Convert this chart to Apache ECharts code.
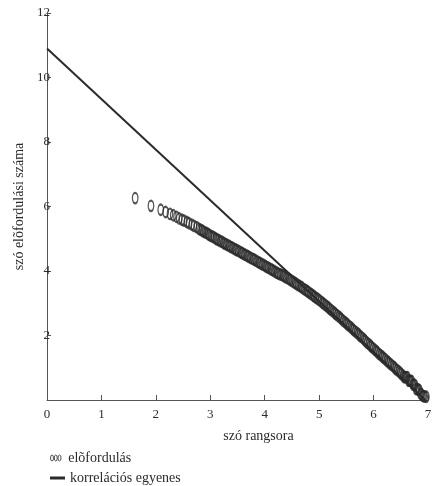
<!DOCTYPE html>
<html lang="hu">
<head>
    <meta charset="utf-8">
    <title>szó rangsora</title>
    <script src="https://cdn.jsdelivr.net/npm/echarts@6/dist/echarts.min.js"></script>
    <style>
        html, body { margin: 0; padding: 0; background: #fff; }
        #chart { width: 435px; height: 486px; }
    </style>
</head>
<body>
<div id="chart"></div>
<script type="text/javascript">
    // előfordulás (scatter)
    var occX = [1.62, 1.91, 2.09, 2.18, 2.26, 2.32, 2.38, 2.43, 2.48, 2.52, 2.57,
        2.61, 2.66, 2.70, 2.75,
        2.79, 2.82, 2.85, 2.87, 2.90, 2.93, 2.96, 2.98, 3.01, 3.04, 3.07, 3.10,
        3.12, 3.15, 3.18, 3.21, 3.24, 3.26, 3.29, 3.32, 3.35, 3.37, 3.40, 3.43,
        3.46, 3.48, 3.51, 3.54, 3.57, 3.59, 3.62, 3.65, 3.68, 3.70, 3.73, 3.76,
        3.79, 3.81, 3.84, 3.87, 3.90, 3.92, 3.95, 3.98, 4.01, 4.03, 4.06, 4.09,
        4.12, 4.14, 4.17, 4.20, 4.23, 4.25, 4.28, 4.31, 4.34, 4.36, 4.39, 4.42,
        4.45, 4.47, 4.50, 4.53, 4.56, 4.58, 4.61, 4.64, 4.67, 4.69, 4.72, 4.75,
        4.78, 4.80, 4.83, 4.86, 4.89, 4.91, 4.94, 4.97, 5.00, 5.03, 5.06, 5.08,
        5.11, 5.14, 5.17, 5.19, 5.22, 5.25, 5.28, 5.30, 5.33, 5.36, 5.39, 5.41,
        5.44, 5.47, 5.50, 5.52, 5.55, 5.58, 5.61, 5.63, 5.66, 5.69, 5.72, 5.74,
        5.77, 5.80, 5.83, 5.85, 5.88, 5.91, 5.94, 5.96, 5.99, 6.02, 6.05, 6.07,
        6.10, 6.13, 6.16, 6.18, 6.21, 6.24, 6.27, 6.29, 6.32, 6.35, 6.38, 6.40,
        6.43, 6.46, 6.49, 6.51, 6.54,
        6.56, 6.58, 6.60, 6.62, 6.64, 6.66, 6.68, 6.70, 6.72, 6.74, 6.76, 6.78,
        6.80, 6.82, 6.84, 6.86, 6.88, 6.90, 6.92, 6.94, 6.97];
    var occY = [6.26, 6.02, 5.90, 5.83, 5.77, 5.73, 5.68, 5.63, 5.59, 5.56, 5.52,
        5.48, 5.44, 5.40, 5.36,
        5.31, 5.28, 5.26, 5.23, 5.20, 5.18, 5.15, 5.12, 5.09, 5.07, 5.04, 5.01,
        4.98, 4.96, 4.93, 4.91, 4.88, 4.85, 4.83, 4.80, 4.78, 4.75, 4.73, 4.70,
        4.67, 4.65, 4.63, 4.60, 4.57, 4.55, 4.52, 4.50, 4.47, 4.45, 4.42, 4.39,
        4.37, 4.35, 4.32, 4.29, 4.26, 4.24, 4.21, 4.19, 4.16, 4.13, 4.11, 4.08,
        4.05, 4.03, 4.00, 3.97, 3.94, 3.92, 3.90, 3.88, 3.86, 3.83, 3.80, 3.78,
        3.75, 3.72, 3.69, 3.66, 3.63, 3.60, 3.57, 3.54, 3.51, 3.48, 3.44, 3.41,
        3.38, 3.35, 3.31, 3.28, 3.24, 3.21, 3.17, 3.14, 3.10, 3.06, 3.02, 2.99,
        2.95, 2.91, 2.87, 2.83, 2.79, 2.75, 2.71, 2.67, 2.63, 2.59, 2.55, 2.51,
        2.46, 2.42, 2.38, 2.34, 2.30, 2.26, 2.21, 2.17, 2.13, 2.09, 2.05, 2.00,
        1.96, 1.92, 1.87, 1.83, 1.78, 1.74, 1.69, 1.65, 1.61, 1.56, 1.52, 1.48,
        1.43, 1.39, 1.35, 1.31, 1.27, 1.22, 1.18, 1.14, 1.10, 1.06, 1.02, 0.97,
        0.93, 0.89, 0.85, 0.80, 0.76,
        0.71, 0.71, 0.71, 0.71, 0.60, 0.60, 0.59, 0.59, 0.48, 0.48, 0.46, 0.34,
        0.34, 0.32, 0.31, 0.20, 0.18, 0.13, 0.12, 0.11, 0.10];

    // korrelációs egyenes
    var corrX = [0, 6.95];
    var corrY = [10.9, 0];

    var xTicks = [0, 1, 2, 3, 4, 5, 6, 7];
    var yTicks = [2, 4, 6, 8, 10, 12];

    var ink = '#2b2b2b',
        serif = 'Liberation Serif';

    function pairs(xs, ys) {
        var out = [];
        for (var i = 0; i < xs.length; i++) {
            out.push([xs[i], ys[i]]);
        }
        return out;
    }

    var ellipse = 'path://M0,5 A3,5 0 1,0 6,5 A3,5 0 1,0 0,5 Z';
    var threeEllipses = 'path://M0,4 A2,4 0 1,0 4,4 A2,4 0 1,0 0,4 Z ' +
        'M5,4 A2,4 0 1,0 9,4 A2,4 0 1,0 5,4 Z ' +
        'M10,4 A2,4 0 1,0 14,4 A2,4 0 1,0 10,4 Z';

    var myChart = echarts.init(document.getElementById('chart'));

    myChart.setOption({
        animation: false,
        backgroundColor: '#fff',
        textStyle: { fontFamily: serif, color: ink },
        grid: { left: 47, right: 7, top: 13, bottom: 86 },
        legend: [
            {
                left: 45, top: 446,
                itemWidth: 15, itemHeight: 6,
                selectedMode: false,
                textStyle: { fontFamily: serif, fontSize: 14, color: ink },
                data: [{
                    name: 'elõfordulás',
                    icon: threeEllipses,
                    itemStyle: { color: 'rgba(0,0,0,0)', borderColor: ink, borderWidth: 1 }
                }]
            },
            {
                left: 45, top: 466,
                itemWidth: 15, itemHeight: 3,
                selectedMode: false,
                textStyle: { fontFamily: serif, fontSize: 14, color: ink },
                data: [{
                    name: 'korrelációs egyenes',
                    icon: 'rect',
                    itemStyle: { color: ink }
                }]
            }
        ],
        xAxis: {
            type: 'value',
            min: xTicks[0],
            max: xTicks[xTicks.length - 1],
            interval: 1,
            name: 'szó rangsora',
            nameLocation: 'middle',
            nameGap: 29,
            nameTextStyle: { fontFamily: serif, fontSize: 14, color: ink, padding: [0, 0, 0, 42] },
            axisLine: { lineStyle: { color: '#555', width: 1 } },
            axisTick: { inside: true, length: 5, lineStyle: { color: '#555' } },
            axisLabel: { margin: 8, fontFamily: serif, fontSize: 13, color: ink },
            splitLine: { show: false }
        },
        yAxis: {
            type: 'value',
            min: 0,
            max: yTicks[yTicks.length - 1],
            interval: 2,
            name: 'szó elõfordulási száma',
            nameLocation: 'middle',
            nameGap: 20,
            nameTextStyle: { fontFamily: serif, fontSize: 14, color: ink },
            axisLine: { show: true, lineStyle: { color: '#555', width: 1 } },
            axisTick: { show: true, inside: true, length: 4, lineStyle: { color: '#555' } },
            axisLabel: {
                margin: -3,
                fontFamily: serif, fontSize: 13, color: ink,
                formatter: function (v) { return yTicks.indexOf(v) < 0 ? '' : v; }
            },
            splitLine: { show: false }
        },
        series: [
            {
                name: 'korrelációs egyenes',
                type: 'line',
                z: 1,
                symbol: 'none',
                lineStyle: { color: ink, width: 2 },
                emphasis: { disabled: true },
                data: pairs(corrX, corrY)
            },
            {
                name: 'elõfordulás',
                type: 'scatter',
                z: 2,
                symbol: ellipse,
                symbolSize: [5.5, 10.5],
                itemStyle: { color: 'rgba(0,0,0,0)', borderColor: ink, borderWidth: 1.7 },
                emphasis: { disabled: true },
                data: pairs(occX, occY)
            }
        ]
    });
</script>
</body>
</html>
